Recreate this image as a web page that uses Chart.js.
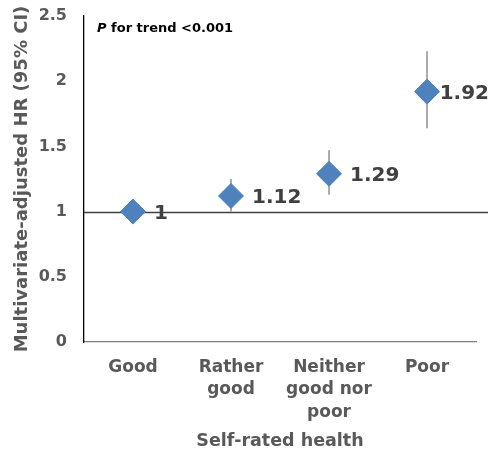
<!DOCTYPE html>
<html>
<head>
<meta charset="utf-8">
<script src="https://cdn.jsdelivr.net/npm/chart.js@4"></script>
<style>
  html, body { margin: 0; padding: 0; background: #ffffff; }
  #wrap { width: 493px; height: 454px; position: relative; }
</style>
</head>
<body>
<div id="wrap"><canvas id="c" width="493" height="454"></canvas></div>
<script>
// Self-rated health categories and hazard ratios with 95% confidence limits
const categories = [["Good"], ["Rather", "good"], ["Neither", "good nor", "poor"], ["Poor"]];
const hazardRatios = [1, 1.12, 1.29, 1.92];
const ciLower = [1, 1.00, 1.13, 1.64];
const ciUpper = [1, 1.25, 1.47, 2.23];
const yTicks = [0, 0.5, 1, 1.5, 2, 2.5];
const trendNote = { italic: "P", rest: " for trend <0.001" };

const FONT = "'DejaVu Sans', sans-serif";
const GREY = "#595959";
const BLUE = "#4F81BD";

// Vertical 95% CI whiskers behind each diamond
const errorBars = {
  id: "errorBars",
  beforeDatasetsDraw(chart) {
    const { ctx, scales: { x, y } } = chart;
    ctx.save();
    ctx.strokeStyle = "#7f7f7f";
    ctx.lineWidth = 1.3;
    hazardRatios.forEach((_, i) => {
      if (ciLower[i] === ciUpper[i]) return;
      const px = x.getPixelForValue(i);
      ctx.beginPath();
      ctx.moveTo(px, y.getPixelForValue(ciLower[i]));
      ctx.lineTo(px, y.getPixelForValue(ciUpper[i]));
      ctx.stroke();
    });
    ctx.restore();
  }
};

// Reference line at HR = 1 plus the value labels and trend note
const annotations = {
  id: "annotations",
  beforeDatasetsDraw(chart) {
    const { ctx, chartArea, scales: { y } } = chart;
    const py = Math.round(y.getPixelForValue(1)) + 0.5;
    ctx.save();
    ctx.strokeStyle = "#404040";
    ctx.lineWidth = 1.3;
    ctx.beginPath();
    ctx.moveTo(chartArea.left, py);
    ctx.lineTo(chartArea.right + 12, py);
    ctx.stroke();
    ctx.restore();
  },
  afterDatasetsDraw(chart) {
    const { ctx, chartArea, width } = chart;
    const meta = chart.getDatasetMeta(0);
    ctx.save();
    ctx.fillStyle = "#404040";
    ctx.font = "bold 20px " + FONT;
    ctx.textAlign = "left";
    ctx.textBaseline = "middle";
    meta.data.forEach((pt, i) => {
      const txt = String(hazardRatios[i]);
      const tw = ctx.measureText(txt).width;
      // keep the label inside the canvas when the point sits near the right edge
      const lx = Math.min(pt.x + 21, width - tw - 4);
      ctx.fillText(txt, lx, pt.y + 2);
    });
    ctx.fillStyle = "#000000";
    ctx.textBaseline = "alphabetic";
    ctx.font = "italic bold 13px " + FONT;
    const x0 = chartArea.left + 13;
    const y0 = 32;
    ctx.fillText(trendNote.italic, x0, y0);
    const w = ctx.measureText(trendNote.italic).width;
    ctx.font = "bold 13px " + FONT;
    ctx.fillText(trendNote.rest, x0 + w, y0);
    ctx.restore();
  }
};

new Chart(document.getElementById("c"), {
  type: "line",
  data: {
    labels: categories,
    datasets: [{
      data: hazardRatios,
      showLine: false,
      pointStyle: "rectRot",
      pointRadius: 12.5,
      pointHoverRadius: 12.5,
      backgroundColor: BLUE,
      borderColor: BLUE,
      borderWidth: 1
    }]
  },
  options: {
    responsive: false,
    animation: false,
    events: [],
    layout: { padding: { top: 16, right: 17, bottom: 2, left: 4 } },
    plugins: { legend: { display: false }, tooltip: { enabled: false } },
    scales: {
      x: {
        offset: true,
        grid: { display: false, drawTicks: false },
        border: { display: true, color: "#7f7f7f", width: 1.3 },
        ticks: {
          color: GREY,
          font: { family: FONT, size: 17, weight: "bold", lineHeight: 1.32 },
          padding: 14,
          maxRotation: 0,
          autoSkip: false
        },
        title: {
          display: true,
          text: "Self-rated health",
          color: GREY,
          font: { family: FONT, size: 17.5, weight: "bold" },
          padding: { top: 0, bottom: 0 }
        },
        afterFit(scale) { scale.height = 454 - 342 - 2; }
      },
      y: {
        min: 0,
        max: 2.5,
        afterBuildTicks(scale) { scale.ticks = yTicks.map(v => ({ value: v })); },
        grid: { display: false, drawTicks: false },
        border: { display: true, color: "#000000", width: 1.3 },
        ticks: {
          color: GREY,
          font: { family: FONT, size: 16, weight: "bold" },
          padding: 17,
          callback: v => String(v)
        },
        title: {
          display: true,
          text: "Multivariate-adjusted HR (95% CI)",
          color: GREY,
          font: { family: FONT, size: 18, weight: "bold" },
          padding: { top: 8, bottom: 0 }
        },
        afterFit(scale) {
          scale.width = 84 - 4;
          scale.paddingTop = 0;
          scale.paddingBottom = 0;
        }
      }
    }
  },
  plugins: [errorBars, annotations]
});
</script>
</body>
</html>
